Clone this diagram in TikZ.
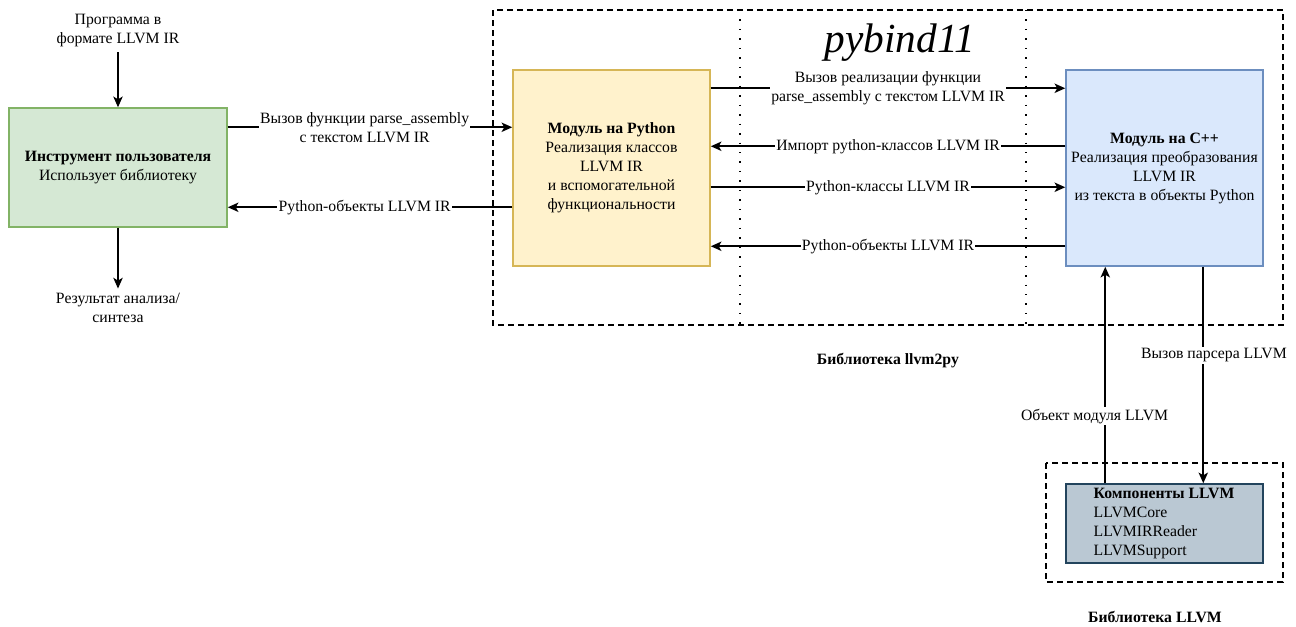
\documentclass[tikz,border=0pt]{standalone}
\usepackage{fontspec}
\setmainfont{Liberation Serif}
\usetikzlibrary{arrows.meta, calc}

\definecolor{userfill}{HTML}{D5E8D4}
\definecolor{userline}{HTML}{82B366}
\definecolor{pyfill}{HTML}{FFF2CC}
\definecolor{pyline}{HTML}{D6B656}
\definecolor{cppfill}{HTML}{DAE8FC}
\definecolor{cppline}{HTML}{6C8EBF}
\definecolor{llvmfill}{HTML}{BAC8D3}
\definecolor{llvmline}{HTML}{23445D}

\tikzset{
    box/.style={draw, line width=1.1pt, align=center, inner sep=2pt},
    arr/.style={line width=1.2pt, -{Stealth[length=8pt, width=7pt, inset=2pt]}},
    lbl/.style={fill=white, inner sep=1pt, align=center},
    group/.style={line width=1.1pt, dash pattern=on 4.5pt off 3pt},
    lane/.style={line width=1.1pt, dash pattern=on 1.1pt off 6pt}
}

\begin{document}
\begin{tikzpicture}[x=0.75pt, y=-0.75pt, font=\fontsize{11.8}{14.25}\selectfont]
                \useasboundingbox (0,0) rectangle (1296,626);

                \draw [group] (493,10) rectangle (1283,325);
                \draw [lane] (740,10) -- (740,325);
                \draw [lane] (1026,10) -- (1026,325);
                \draw [group] (1046,463) rectangle (1283,582);

                \node (pybind) at (900,43) {\fontsize{31}{33}\selectfont\itshape pybind11};

                \node [box, fill=userfill, draw=userline, minimum width=218*0.75pt, minimum height=119*0.75pt] (usr) at (118,167.5)
                    {\textbf{Инструмент пользователя}\\Использует библиотеку};
                \node [box, fill=pyfill, draw=pyline, minimum width=197*0.75pt, minimum height=196*0.75pt] (pymod) at (611.5,168)
                    {\textbf{Модуль на Python}\\Реализация классов\\LLVM IR\\и вспомогательной\\функциональности};
                \node [box, fill=cppfill, draw=cppline, minimum width=197*0.75pt, minimum height=196*0.75pt] (cppmod) at (1164.5,168)
                    {\textbf{Модуль на C++}\\Реализация преобразования\\LLVM IR\\из текста в объекты Python};
                \node [box, fill=llvmfill, draw=llvmline, minimum width=197*0.75pt, minimum height=79*0.75pt] (llvm) at (1164.5,523.5) {};
                \node [anchor=west, align=left] (llvmtext) at (1089,523.5)
                    {\textbf{Компоненты LLVM}\\LLVMCore\\LLVMIRReader\\LLVMSupport};

                \node [align=center] (input) at (118,31) {Программа в\\формате LLVM IR};
                \node [align=center] (output) at (118,308) {Результат анализа/\\синтеза};
                \draw [arr] (input) -- (usr);
                \draw [arr] (usr) -- (output);

                \draw [arr] ($(usr.north east)+(0,20)$) -- ($(pymod.north west)+(0,58)$)
                    node [lbl, midway, xshift=-4pt] {Вызов функции parse\_assembly\\с текстом LLVM IR};
                \draw [arr] ($(pymod.north west)+(0,138)$) -- ($(usr.north east)+(0,100)$)
                    node [lbl, midway, xshift=-4pt] {Python-объекты LLVM IR};

                \draw [arr] ($(pymod.north east)+(0,19)$) -- ($(cppmod.north west)+(0,19)$)
                    node [lbl, midway] {Вызов реализации функции\\parse\_assembly с текстом LLVM IR};
                \draw [arr] ($(cppmod.north west)+(0,77)$) -- ($(pymod.north east)+(0,77)$)
                    node [lbl, midway] {Импорт python-классов LLVM IR};
                \draw [arr] ($(pymod.north east)+(0,118)$) -- ($(cppmod.north west)+(0,118)$)
                    node [lbl, midway] {Python-классы LLVM IR};
                \draw [arr] ($(cppmod.north west)+(0,177)$) -- ($(pymod.north east)+(0,177)$)
                    node [lbl, midway] {Python-объекты LLVM IR};

                \draw [arr] ($(llvm.north west)+(40,0)$) -- ($(cppmod.south west)+(40,0)$)
                    node [lbl, pos=0.31, xshift=-8pt] {Объект модуля LLVM};
                \draw [arr] ($(cppmod.south west)+(138,0)$) -- ($(llvm.north west)+(138,0)$)
                    node [lbl, pos=0.41, xshift=8pt] {Вызов парсера LLVM};

                \node (libpy) at (888,361) {\textbf{Библиотека llvm2py}};
                \node (libllvm) at (1155,617) {\textbf{Библиотека LLVM}};
            \end{tikzpicture}
\end{document}
